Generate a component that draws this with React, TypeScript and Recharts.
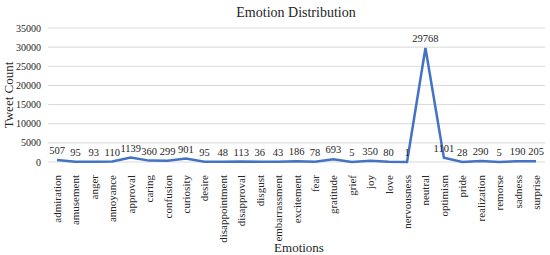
import React from 'react';
import { LineChart, Line, XAxis, YAxis, CartesianGrid, LabelList } from 'recharts';

const emotions = [
  'admiration', 'amusement', 'anger', 'annoyance', 'approval', 'caring', 'confusion',
  'curiosity', 'desire', 'disappointment', 'disapproval', 'disgust', 'embarrassment',
  'excitement', 'fear', 'gratitude', 'grief', 'joy', 'love', 'nervousness', 'neutral',
  'optimism', 'pride', 'realization', 'remorse', 'sadness', 'surprise',
];

const tweetCounts = [
  507, 95, 93, 110, 1139, 360, 299, 901, 95, 48, 113, 36, 43, 186, 78, 693, 5, 350, 80,
  1, 29768, 1101, 28, 290, 5, 190, 205,
];

const yTicks = [0, 5000, 10000, 15000, 20000, 25000, 30000, 35000];

const data = emotions.map((name, i) => ({ name, count: tweetCounts[i] }));

const FONT = '"Liberation Serif", "Times New Roman", serif';
const INK = '#262626';

const EmotionTick = ({ x, y, payload }: any) => (
  <text
    x={0}
    y={0}
    transform={`translate(${x + 4},${y + 5}) rotate(-90)`}
    textAnchor="end"
    fontFamily={FONT}
    fontSize={11}
    fill={INK}
  >
    {payload.value}
  </text>
);

// y tick labels sit right-aligned just left of the plot
const CountTick = ({ y, payload }: any) => (
  <text x={41} y={y + 3.5} textAnchor="end" fontFamily={FONT} fontSize={10} fill={INK}>
    {payload.value}
  </text>
);

export default function App() {
  return (
    <div style={{ position: 'absolute', left: 0, top: 0, width: 550, height: 255, background: '#fff' }}>
      <svg
        width={550}
        height={255}
        style={{ position: 'absolute', left: 0, top: 0, pointerEvents: 'none', zIndex: 1 }}
      >
        <text x={296} y={17} textAnchor="middle" fontFamily={FONT} fontSize={14} fill={INK}>
          Emotion Distribution
        </text>
        <text x={299} y={252} textAnchor="middle" fontFamily={FONT} fontSize={13} fill={INK}>
          Emotions
        </text>
        <text
          x={0}
          y={0}
          transform="translate(13,95) rotate(-90)"
          textAnchor="middle"
          fontFamily={FONT}
          fontSize={13}
          fill={INK}
        >
          Tweet Count
        </text>
      </svg>
      <LineChart
        width={550}
        height={255}
        data={data}
        margin={{ top: 28, right: 5, left: 0, bottom: 15 }}
      >
        <CartesianGrid vertical={false} stroke="#d9d9d9" />
        <XAxis
          dataKey="name"
          interval={0}
          axisLine={false}
          tickLine={false}
          padding={{ left: 9, right: 9 }}
          height={78}
          tick={<EmotionTick />}
        />
        <YAxis
          domain={[0, 35000]}
          ticks={yTicks}
          interval={0}
          width={48}
          axisLine={false}
          tickLine={false}
          tick={<CountTick />}
        />
        <Line
          dataKey="count"
          stroke="#4472c4"
          strokeWidth={2.5}
          dot={false}
          isAnimationActive={false}
        >
          <LabelList
            dataKey="count"
            position="top"
            offset={6}
            fontFamily={FONT}
            fontSize={10.5}
            fill={INK}
          />
        </Line>
      </LineChart>
    </div>
  );
}
